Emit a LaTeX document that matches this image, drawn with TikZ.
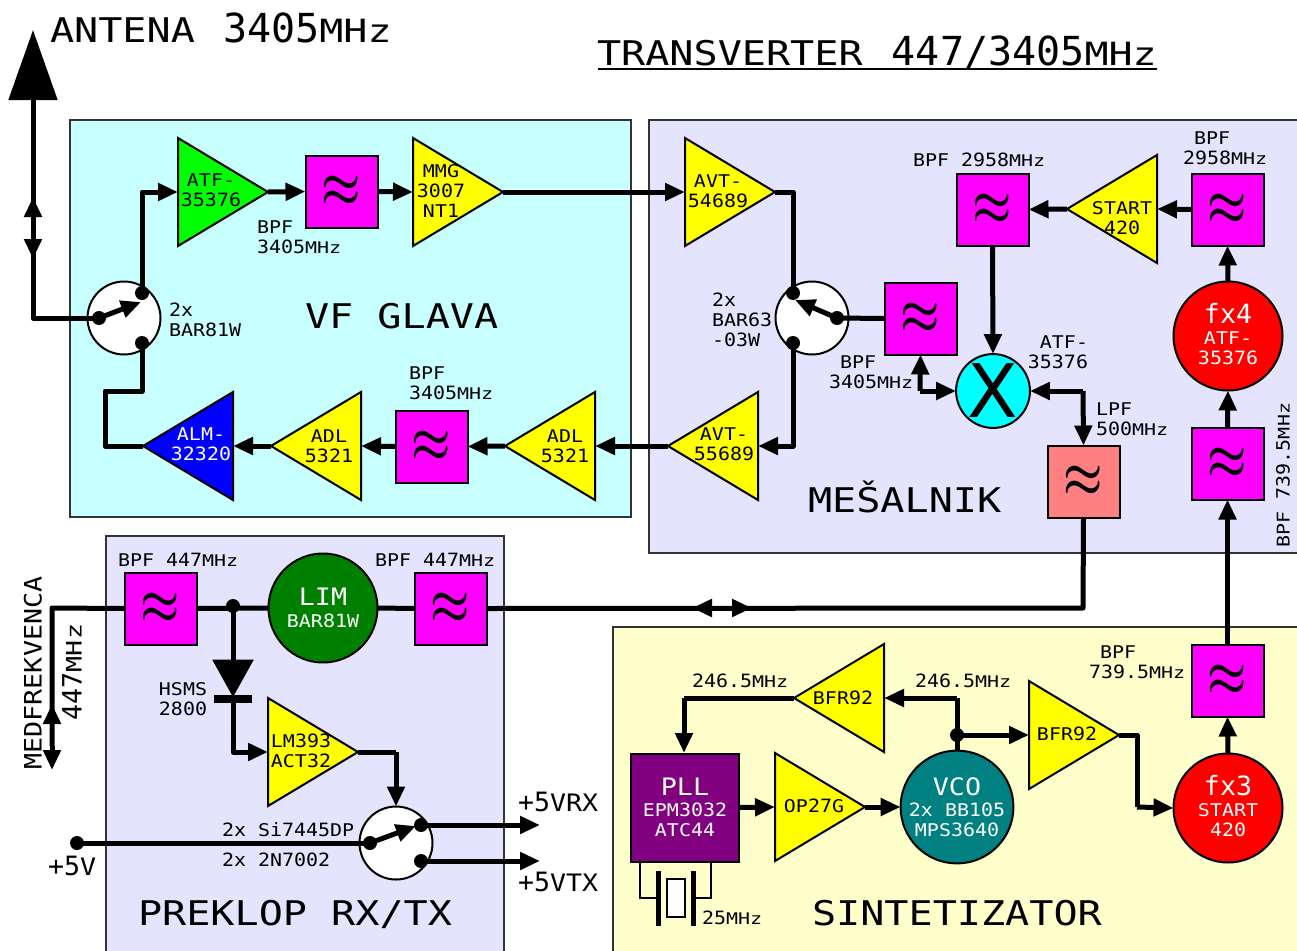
\documentclass[tikz,border=0pt]{standalone}
\usepackage{fontspec}
\usepackage{graphicx}
\usetikzlibrary{shapes.geometric,arrows.meta,calc}
\setmainfont{DejaVu Sans Mono}
\newfontfamily\fD{DejaVu Sans Mono}
\newfontfamily\fLl[FakeStretch=1.18]{DejaVu Sans Mono}
\newfontfamily\fLm[FakeStretch=1.11]{DejaVu Sans Mono}
\newfontfamily\fLs[FakeStretch=1.14]{DejaVu Sans Mono}
\newfontfamily\fDs[FakeStretch=1.09]{DejaVu Sans Mono}
\newfontfamily\fM[FakeStretch=1.25]{DejaVu Sans Mono}
\newfontfamily\fX{DejaVu Sans}
\def\ts{\def\sz{18.3}\def\szm{16}\def\bl{20}\let\fDg\fDs\fontsize{17.5}{20}\fLs}
\def\tm{\def\sz{26.6}\def\szm{21.3}\def\bl{26}\let\fDg\fD\fontsize{24}{26}\fLm}
\def\tl{\def\sz{40}\def\szm{32}\def\bl{40}\let\fDg\fD\fontsize{34}{40}\fLl}
\newcommand\Dg[1]{{\fontsize{\sz}{\bl}\fDg #1}}
\newcommand\Mz{{\fontsize{\szm}{\bl}\fM MHz}}
\newcommand\Fl{\scalebox{4.4}[5.6]{\boldmath$\approx$}}
\newcommand\Dp{\rule[-4pt]{0pt}{4pt}}
\definecolor{vfbg}{HTML}{C8FFFF}
\definecolor{lilac}{HTML}{E4E4FF}
\definecolor{cream}{HTML}{FFFFCC}
\definecolor{lpfc}{HTML}{FF8080}
\definecolor{pllc}{HTML}{800080}
\definecolor{vcoc}{HTML}{008080}
\definecolor{limc}{HTML}{008000}
\definecolor{pane}{HTML}{333333}
\definecolor{cyel}{HTML}{FFFF00}
\definecolor{cmag}{HTML}{FF00FF}
\definecolor{ccya}{HTML}{00FFFF}
\definecolor{cred}{HTML}{FF0000}
\definecolor{cgre}{HTML}{00FF00}
\definecolor{cblu}{HTML}{0000FF}
\tikzset{
  panel/.style={draw=pane,line width=2pt},
  amp/.style={isosceles triangle,isosceles triangle stretches,draw=black,line width=2pt,inner sep=0pt,outer sep=0pt,minimum width=108pt,minimum height=90pt,anchor=apex},
  fbox/.style={rectangle,draw=black,line width=2pt,inner sep=0pt,outer sep=0pt,minimum size=72pt,fill=cmag,font=\fontsize{10}{12}\selectfont},
  blob/.style={circle,draw=black,line width=2pt,inner sep=0pt,outer sep=0pt,minimum size=109pt,align=center,text=white,font=\ts},
  swc/.style={circle,draw=black,line width=2pt,fill=white,inner sep=0pt,outer sep=0pt,minimum size=73pt},
  dotn/.style={circle,fill=black,inner sep=0pt,outer sep=0pt,minimum size=14pt},
  wire/.style={line width=5pt,line join=round},
  arr/.style={wire,-{Triangle[length=20pt,width=17pt]}},
  thin wire/.style={line width=2pt,line join=miter},
  sm/.style={font=\ts,align=left,anchor=west,inner sep=0pt,outer sep=0pt},
  md/.style={font=\tm,align=left,anchor=west,inner sep=0pt,outer sep=0pt},
  lg/.style={font=\tl,anchor=base west,inner sep=0pt,outer sep=0pt},
  lab/.style={font=\ts,align=center,inner sep=0pt,outer sep=0pt},
}
\newcommand\ampR[4]{\node[amp,fill=#4,shape border rotate=0] (#1) at (#2,#3) {};}
\newcommand\ampL[4]{\node[amp,fill=#4,shape border rotate=180] (#1) at (#2,#3) {};}
\begin{document}
\begin{tikzpicture}[x=1pt,y=-1pt]
\useasboundingbox (0,0) rectangle (1297,950);
\fill[white] (0,0) rectangle (1297,950);
% panels
\path[panel,fill=vfbg] (70,120) rectangle (631,517);
\path[panel,fill=lilac] (649,120) rectangle (1305,553);
\path[panel,fill=lilac] (106,536) rectangle (504,960);
\path[panel,fill=cream] (613,627) rectangle (1305,960);
% titles
\node[lg] (tAnt) at (50,42) {ANTENA\hspace{4pt} \Dg{3405}\Mz};
\node[lg] (tTitle) at (597,66) {TRANSVERTER\hspace{5pt} \Dg{447/3405}\Mz};
\coordinate (ulA) at (598,69); \coordinate (ulB) at (1157,69);
\draw[line width=2pt] (ulA) -- (ulB);
\node[lg] (tVF) at (305,328) {VF GLAVA};
\node[lg] (tMes) at (808,512) {MEŠALNIK};
\node[lg] (tPre) at (138,925) {PREKLOP RX/TX};
\node[lg] (tSin) at (812,925) {SINTETIZATOR};
% amplifiers
\ampR{a1}{268}{192}{cgre}
\ampR{a2}{503}{192}{cyel}
\ampR{a3}{775}{192}{cyel}
\ampL{a4}{668}{446}{cyel}
\ampL{a5}{505}{446}{cyel}
\ampL{a6}{271}{446}{cyel}
\ampL{a7}{143}{446}{cblu}
\ampL{a8}{1067}{209}{cyel}
\ampR{a9}{358}{752}{cyel}
\ampL{a10}{794}{698}{cyel}
\ampR{a11}{1119}{735}{cyel}
\ampR{a12}{865}{807}{cyel}
% filters
\node[fbox] (f1) at (341.5,191.5) {\Fl};
\node[fbox] (f2) at (431.5,446.5) {\Fl};
\node[fbox] (f3) at (920.5,318.5) {\Fl};
\node[fbox] (f4) at (992.5,209.5) {\Fl};
\node[fbox] (f5) at (1227.5,209.5) {\Fl};
\node[fbox] (f6) at (1227.5,463.5) {\Fl};
\node[fbox] (f7) at (1227.5,680.5) {\Fl};
\node[fbox] (f8) at (160.5,608.5) {\Fl};
\node[fbox] (f9) at (450.5,608.5) {\Fl};
\node[fbox,fill=lpfc] (f10) at (1083.5,481.5) {\Fl};
% blobs
\node[blob,fill=cred] (fx4) at (1228,336) {{\tm\Dg{fx4}}\\[1pt]ATF-\\\Dg{35376}\Dp};
\node[blob,fill=cred] (fx3) at (1228,808) {{\tm\Dg{fx3}}\\[1pt]START\\\Dg{420}\Dp};
\node[blob,fill=vcoc] (vco) at (957,807) {{\tm VCO}\\[1pt]\Dg{2x} BB\Dg{105}\\MPS\Dg{3640}};
\node[blob,fill=limc] (lim) at (323,608) {{\tm LIM}\\[2pt]BAR\Dg{81}W};
\node[circle,draw=black,line width=2pt,fill=ccya,inner sep=0pt,outer sep=0pt,minimum size=72pt,font=\fontsize{74}{74}\fX] (mix) at (993,391) {X};
\node[rectangle,draw=black,line width=2pt,fill=pllc,inner sep=0pt,outer sep=0pt,minimum width=108pt,minimum height=108pt,align=center,text=white,font=\ts] (pll) at (685,807.5) {{\tm PLL}\\[1pt]EPM\Dg{3032}\\ATC\Dg{44}};
% switches
\node[swc] (s1) at (124,318) {};
\node[swc] (s2) at (812,318) {};
\node[swc] (s3) at (396,843) {};
\node[dotn] (s1a) at (99,318) {};
\node[dotn] (s1b) at (142,293) {};
\node[dotn] (s1c) at (142,343) {};
\node[dotn] (s2a) at (837,318) {};
\node[dotn] (s2b) at (793,293) {};
\node[dotn] (s2c) at (793,343) {};
\node[dotn] (s3a) at (370,843) {};
\node[dotn] (s3b) at (421,825) {};
\node[dotn] (s3c) at (421,861) {};
\coordinate (s1t) at (141,302); \coordinate (s2t) at (795,300); \coordinate (s3t) at (416,826);
\draw[arr] (s1a.center) -- (s1t);
\draw[arr] (s2a.center) -- (s2t);
\draw[arr] (s3a.center) -- (s3t);
% antenna
\coordinate (antTip) at (33,30);
\coordinate (antCorner) at (33,318);
\draw[wire,-{Triangle[length=70pt,width=48pt]}] (s1a.center) -- (antCorner) -- (antTip);
\coordinate (au1) at (33,218); \coordinate (au2) at (33,197);
\coordinate (ad1) at (33,238); \coordinate (ad2) at (33,259);
\draw[arr] (au1) -- (au2);
\draw[arr] (ad1) -- (ad2);
% VF chain
\draw[arr] (s1b.center) |- (a1.lower side);
\draw[arr] (a1.apex) -- (f1.west);
\draw[arr] (f1.east) -- (a2.lower side);
\draw[arr] (a2.apex) -- (a3.lower side);
\draw[wire] (a3.apex) -| (s2b.center);
\coordinate (v1) at (142,391); \coordinate (v2) at (105,391); \coordinate (v3) at (105,446);
\draw[wire] (s1c.center) -- (v1) -- (v2) -- (v3) -- (a7.apex);
\draw[arr] (a6.apex) -- (a7.lower side);
\draw[arr] (f2.west) -- (a6.lower side);
\draw[arr] (a5.apex) -- (f2.east);
\draw[arr] (a4.apex) -- (a5.lower side);
\draw[arr] (s2c.center) |- (a4.lower side);
\draw[wire] (s2a.center) -- (f3.west);
% mixer
\draw[arr] (f4.south) -- (mix.north);
\coordinate (m1) at (920,391);
\draw[arr] (m1) -- (f3.south);
\draw[arr] (m1) -- (mix.west);
\coordinate (m2) at (1083,391);
\draw[arr] (m2) -- (mix.east);
\draw[arr] (m2) -- (f10.north);
\draw[arr] (a8.apex) -- (f4.east);
\draw[arr] (f5.west) -- (a8.lower side);
\draw[arr] (fx4.north) -- (f5.south);
\draw[arr] (f6.north) -- (fx4.south);
\draw[arr] (f7.north) -- (f6.south);
\draw[arr] (fx3.north) -- (f7.south);
% IF line
\coordinate (lp) at (1083,608);
\draw[wire] (f10.south) -- (lp) -- (f9.east);
\coordinate (la1) at (712,608); \coordinate (la2) at (692,608);
\coordinate (lb1) at (732,608); \coordinate (lb2) at (752,608);
\draw[arr] (la1) -- (la2);
\draw[arr] (lb1) -- (lb2);
\draw[wire] (lim.east) -- (f9.west);
\node[dotn] (j1) at (233,606) {};
\draw[wire] (f8.east) -- (lim.west);
\coordinate (med) at (52,608);
\coordinate (mu1) at (52,724); \coordinate (mu2) at (52,704);
\coordinate (md1) at (52,746); \coordinate (md2) at (52,770);
\draw[wire] (f8.west) -- (med) -- (md1);
\draw[arr] (mu1) -- (mu2);
\draw[arr] (md1) -- (md2);
% diode
\node[isosceles triangle,isosceles triangle stretches,shape border rotate=-90,fill=black,draw=black,line width=1pt,inner sep=0pt,outer sep=0pt,minimum width=40pt,minimum height=36pt,anchor=apex] (dio) at (233,696) {};
\node[rectangle,fill=black,inner sep=0pt,outer sep=0pt,minimum width=38pt,minimum height=8pt] (bar) at (233,699) {};
\draw[wire] (j1.center) -- (dio.lower side);
\draw[arr] (bar.center) |- (a9.lower side);
\coordinate (c1) at (396,752);
\draw[wire] (a9.apex) -- (c1);
\draw[arr] (c1) -- (s3.north);
\node[dotn] (p5) at (77,843) {};
\draw[wire] (p5.center) -- (s3a.center);
\coordinate (o1) at (540,825); \coordinate (o2) at (540,861);
\draw[arr] (s3b.center) -- (o1);
\draw[arr] (s3c.center) -- (o2);
% synth
\draw[arr] (pll.east) -- (a12.lower side);
\draw[arr] (a12.apex) -- (vco.west);
\coordinate (y1) at (957,698);
\draw[wire] (vco.north) -- (y1);
\draw[arr] (y1) -- (a10.lower side);
\coordinate (y2) at (684,698);
\draw[wire] (a10.apex) -- (y2);
\coordinate (y3) at (684,753);
\draw[arr] (y2) -- (y3);
\node[dotn] (j2) at (957,735) {};
\draw[arr] (j2.center) -- (a11.lower side);
\coordinate (y4) at (1137,735); \coordinate (y5) at (1137,807);
\draw[wire] (a11.apex) -- (y4) -- (y5);
\draw[arr] (y5) -- (fx3.west);
% crystal
\coordinate (x1) at (640,862); \coordinate (x2) at (640,898); \coordinate (x3) at (658,898);
\coordinate (x4) at (711,862); \coordinate (x5) at (711,898); \coordinate (x6) at (693,898);
\draw[thin wire] (x1) -- (x2) -- (x3);
\draw[thin wire] (x4) -- (x5) -- (x6);
\node[rectangle,fill=black,inner sep=0pt,outer sep=0pt,minimum width=5pt,minimum height=55pt] (pl1) at (658,898) {};
\node[rectangle,fill=black,inner sep=0pt,outer sep=0pt,minimum width=5pt,minimum height=55pt] (pl2) at (693,898) {};
\node[rectangle,draw=black,line width=2pt,fill=white,inner sep=0pt,outer sep=0pt,minimum width=18pt,minimum height=38pt] (xt) at (676,898) {};
% amp labels
\node[lab] (l1) at (211,190) {ATF-\\\Dg{35376}};
\node[lab] (l2) at (441,191) {MMG\\\Dg{3007}\\NT\Dg{1}};
\node[lab] (l3) at (718,191) {AVT-\\\Dg{54689}};
\node[lab] (l4) at (724,444) {AVT-\\\Dg{55689}};
\node[lab,text=white] (l5) at (201,444) {ALM-\\\Dg{32320}};
\node[lab] (l6) at (329,446) {ADL\\\Dg{5321}};
\node[lab] (l7) at (565,446) {ADL\\\Dg{5321}};
\node[lab] (l8) at (1122,218) {START\\\Dg{420}};
\node[lab] (l9) at (843,698) {BFR\Dg{92}};
\node[lab] (l10) at (1067,734) {BFR\Dg{92}};
\node[lab] (l11) at (301,751) {LM\Dg{393}\\ACT\Dg{32}};
\node[lab] (l12) at (814,806) {OP\Dg{27}G};
% small labels
\node[sm] (t1) at (257,237) {BPF\\\Dg{3405}\Mz};
\node[sm] (t2) at (169,320) {\Dg{2x}\\BAR\Dg{81}W};
\node[sm] (t3) at (409,383) {BPF\\\Dg{3405}\Mz};
\node[sm] (t4) at (712,320) {\Dg{2x}\\BAR\Dg{63}\\\Dg{-03}W};
\node[sm] (t5) at (829,372) {\hspace*{11pt}BPF\\\Dg{3405}\Mz};
\node[sm] (t6) at (913,160) {BPF \Dg{2958}\Mz};
\node[sm] (t7) at (1183,148) {\hspace*{11pt}BPF\\\Dg{2958}\Mz};
\node[sm,align=right,anchor=east] (t8) at (1088,352) {ATF-\\\Dg{35376}};
\node[sm] (t9) at (1096,419) {LPF\\\Dg{500}\Mz};
\node[sm,anchor=center,rotate=90] (t10) at (1283,475) {BPF \Dg{739.5}\Mz};
\node[sm] (t11) at (118,560) {BPF \Dg{447}\Mz};
\node[sm] (t12) at (375,560) {BPF \Dg{447}\Mz};
\node[sm,align=center,anchor=center] (t13) at (183,699) {HSMS\\\Dg{2800}};
\node[sm] (t14) at (222,830) {\Dg{2x} S\Dg{i7445}DP};
\node[sm] (t15) at (222,860) {\Dg{2x 2}N\Dg{7002}};
\node[sm] (t16) at (702,918) {\Dg{25}\Mz};
\node[sm] (t17) at (1089,662) {\hspace*{11pt}BPF\\\Dg{739.5}\Mz};
\node[sm] (t18) at (692,681) {\Dg{246.5}\Mz};
\node[sm] (t19) at (915,681) {\Dg{246.5}\Mz};
\node[md] (t20) at (518,802) {\Dg{+5}VRX};
\node[md] (t21) at (518,882) {\Dg{+5}VTX};
\node[md] (t22) at (48,866) {\Dg{+5}V};
\node[md,anchor=center,rotate=90] (t23) at (33,673) {MEDFREKVENCA};
\node[md,anchor=center,rotate=90] (t24) at (72,672) {\Dg{447}\Mz};
\end{tikzpicture}
\end{document}
